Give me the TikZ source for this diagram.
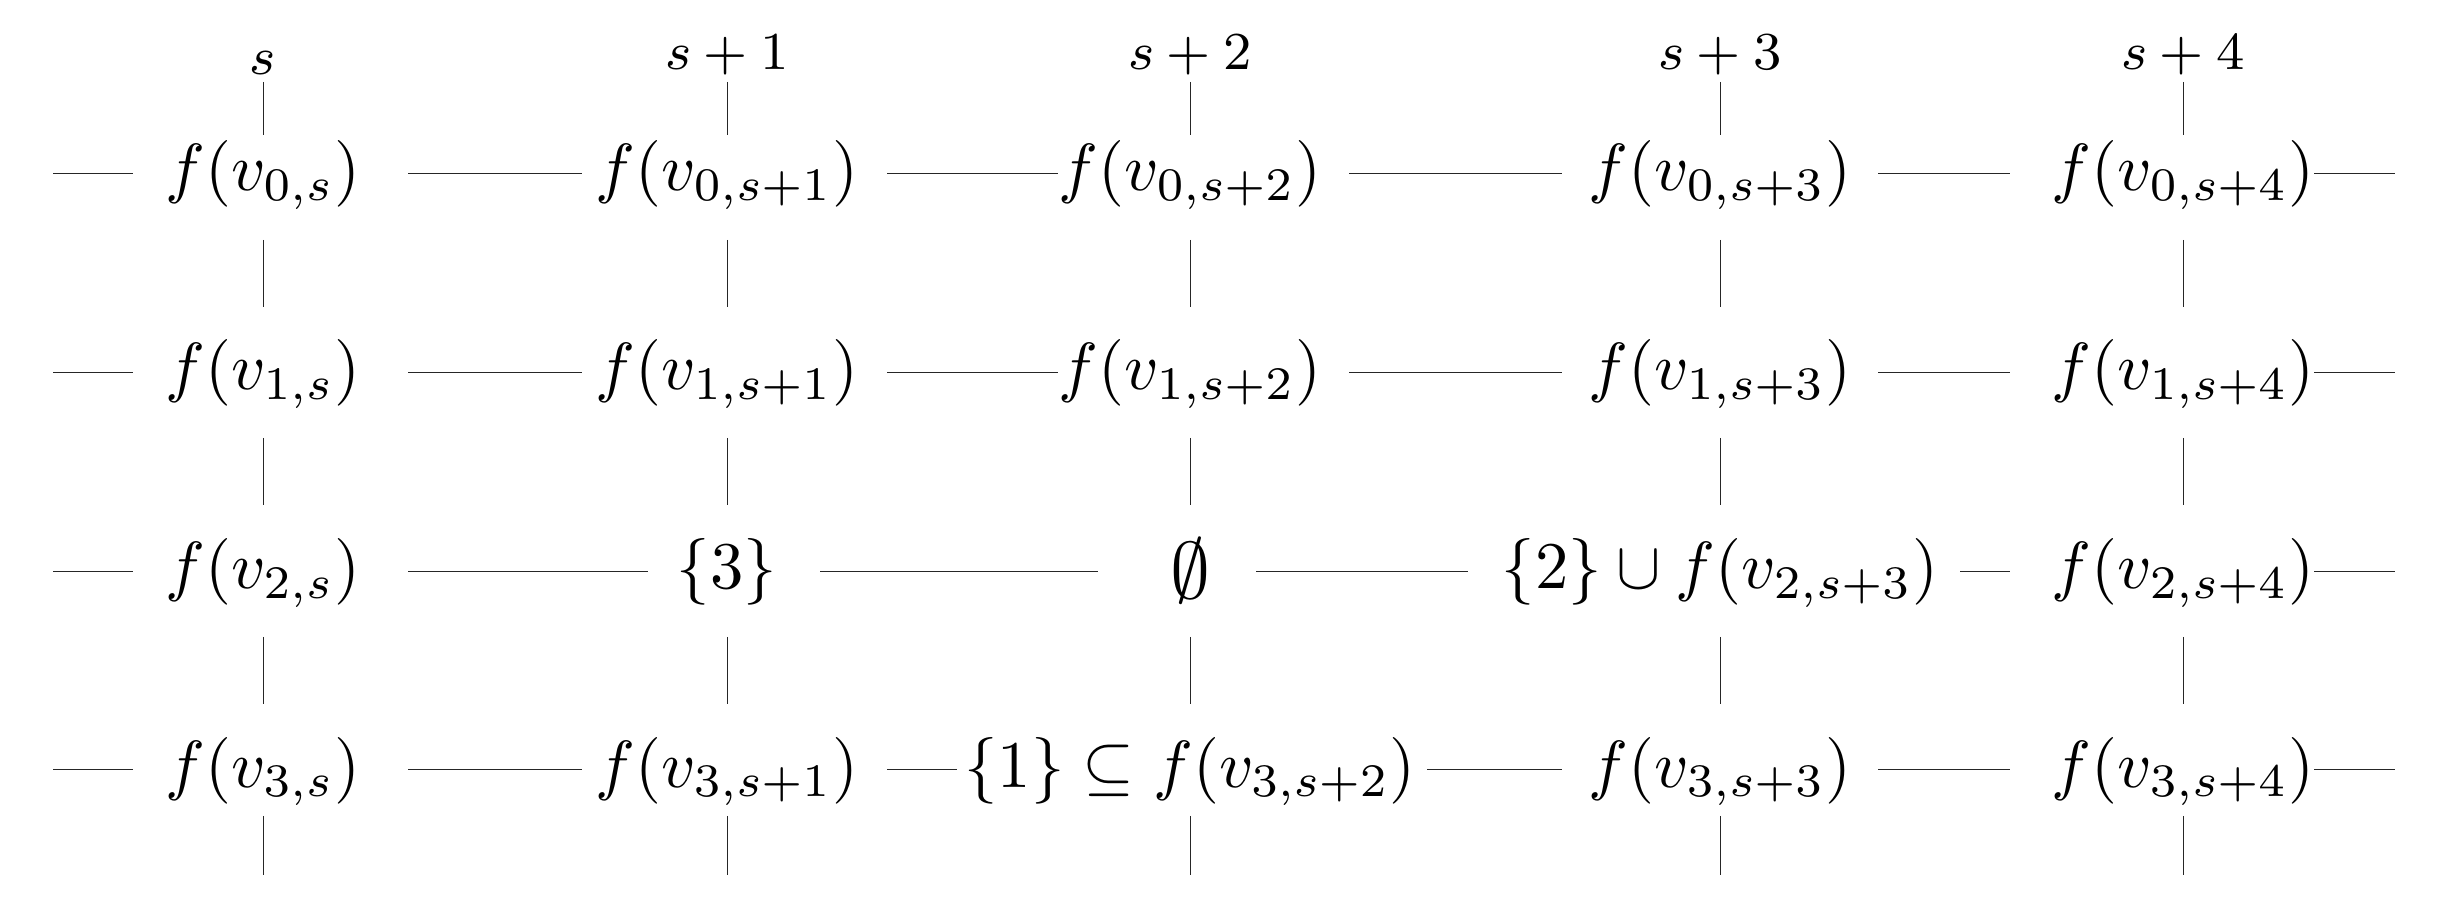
\documentclass[tikz,border=0pt]{standalone}
\usetikzlibrary{calc}
\tikzset{
  cell/.style={anchor=base, inner sep=0pt},
  head/.style={anchor=base, inner sep=0pt, font=\fontsize{8.3}{10}\selectfont},
  gridline/.style={draw=black!85, line width=0.15pt},
}
\newcommand\hseg[4]{\draw[gridline] ($(#1.base)+(#2,-17)$) -- ($(#3.base)+(#4,-17)$);}
\newcommand\vseg[4]{\draw[gridline] ($(#1.base)+(0,#2)$) -- ($(#3.base)+(0,#4)$);}
\begin{document}
\begin{tikzpicture}[x=0.15pt,y=-0.15pt]
\useasboundingbox (0,0) rectangle (2457,916);
% header
\node[head] (h0) at (263,75) {$s$};
\node[head] (h1) at (727,70) {$s+1$};
\node[head] (h2) at (1190,70) {$s+2$};
\node[head] (h3) at (1720,70) {$s+3$};
\node[head] (h4) at (2183,70) {$s+4$};
% row 0
\node[cell] (n00) at (263,191) {$f(v_{0,s})$};
\node[cell] (n01) at (727,191) {$f(v_{0,s+1})$};
\node[cell] (n02) at (1190,191) {$f(v_{0,s+2})$};
\node[cell] (n03) at (1720,191) {$f(v_{0,s+3})$};
\node[cell] (n04) at (2183,191) {$f(v_{0,s+4})$};
% row 1
\node[cell] (n10) at (263,390) {$f(v_{1,s})$};
\node[cell] (n11) at (727,390) {$f(v_{1,s+1})$};
\node[cell] (n12) at (1190,390) {$f(v_{1,s+2})$};
\node[cell] (n13) at (1720,390) {$f(v_{1,s+3})$};
\node[cell] (n14) at (2183,390) {$f(v_{1,s+4})$};
% row 2
\node[cell] (n20) at (263,589) {$f(v_{2,s})$};
\node[cell] (n21) at (727,589) {$\{3\}$};
\node[cell] (n22) at (1190,589) {\raisebox{-1.5pt}{\fontsize{12.5}{14}\selectfont$\emptyset$}};
\node[cell] (n23) at (1720,589) {$\{2\}\cup f(v_{2,s+3})$};
\node[cell] (n24) at (2183,589) {$f(v_{2,s+4})$};
% row 3
\node[cell] (n30) at (263,787) {$f(v_{3,s})$};
\node[cell] (n31) at (727,787) {$f(v_{3,s+1})$};
\node[cell] (n32) at (1190,787) {$\{1\}\subseteq f(v_{3,s+2})$};
\node[cell] (n33) at (1720,787) {$f(v_{3,s+3})$};
\node[cell] (n34) at (2183,787) {$f(v_{3,s+4})$};
% free ends
\foreach \r/\y in {0/174,1/373,2/572,3/770}{
  \coordinate (l\r) at (53,\y);
  \coordinate (r\r) at (2395,\y);
}
\foreach \c/\x in {0/263,1/727,2/1190,3/1720,4/2183}{
  \coordinate (b\c) at (\x,875);
}
% horizontal stubs at the sides
\foreach \r in {0,1,2,3}{
  \draw[gridline] (l\r) -- ($(n\r0.base)+(-130,-17)$);
  \draw[gridline] ($(n\r4.base)+(131,-17)$) -- (r\r);
}
% rows 0, 1
\foreach \r in {0,1}{
  \hseg{n\r0}{145}{n\r1}{-145}
  \hseg{n\r1}{160}{n\r2}{-132}
  \hseg{n\r2}{159}{n\r3}{-158}
  \hseg{n\r3}{158}{n\r4}{-173}
}
% row 2
\hseg{n20}{145}{n21}{-79}
\hseg{n21}{93}{n22}{-92}
\hseg{n22}{66}{n23}{-252}
\hseg{n23}{240}{n24}{-173}
% row 3
\hseg{n30}{145}{n31}{-145}
\hseg{n31}{160}{n32}{-233}
\hseg{n32}{237}{n33}{-158}
\hseg{n33}{158}{n34}{-173}
% vertical lines
\vseg{h0}{7}{n00}{-56}
\foreach \c in {1,2,3,4}{
  \vseg{h\c}{12}{n0\c}{-56}
}
\foreach \c in {0,1,2,3,4}{
  \vseg{n0\c}{49}{n1\c}{-83}
  \vseg{n1\c}{48}{n2\c}{-84}
  \vseg{n2\c}{48}{n3\c}{-83}
  \draw[gridline] ($(n3\c.base)+(0,29)$) -- (b\c);
}
\end{tikzpicture}
\end{document}
